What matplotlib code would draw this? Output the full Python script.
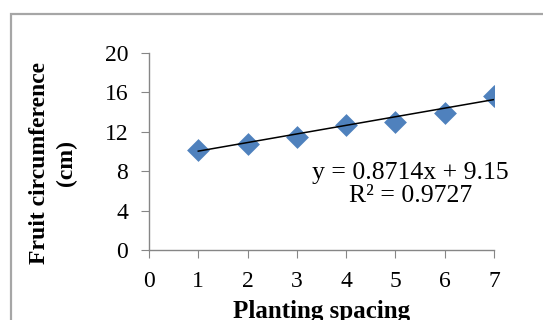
import matplotlib.pyplot as plt
import numpy as np
from matplotlib.patches import Rectangle

# data
spacing = [1, 2, 3, 4, 5, 6, 7]
circumference = [10.1, 10.7, 11.5, 12.7, 13.0, 13.9, 15.6]
slope, intercept = 0.8714, 9.15
r2 = 0.9727
xticks = [0, 1, 2, 3, 4, 5, 6, 7]
yticks = [0, 4, 8, 12, 16, 20]

plt.rcParams['font.family'] = ['Liberation Serif', 'DejaVu Serif']

fig = plt.figure(figsize=(5.43, 3.2), dpi=100)
ax = fig.add_axes([0.2744, 0.21875, 0.6354, 0.6166])

# outer chart border (cut off at right and bottom like the source)
fig.patches.append(Rectangle((11 / 543, -0.1), 1.2, (320 - 14) / 320 + 0.1,
                             transform=fig.transFigure, fill=False,
                             edgecolor='#a6a6a6', linewidth=1.6))

ax.scatter(spacing, circumference, marker='D', s=135, color='#4f81bd',
           zorder=3, linewidths=0)
xs = np.array([spacing[0], spacing[-1]])
ax.plot(xs, slope * xs + intercept, color='black', linewidth=1.1, zorder=4)

ax.set_xlim(0, 7)
ax.set_ylim(0, 20)
ax.set_xticks(xticks)
ax.set_yticks(yticks)
for s in ['top', 'right']:
    ax.spines[s].set_visible(False)
for s in ['left', 'bottom']:
    ax.spines[s].set_color('#868686')
    ax.spines[s].set_linewidth(1.0)
ax.tick_params(axis='y', direction='out', length=6, color='#868686',
               labelsize=17, pad=9)
ax.tick_params(axis='x', direction='out', length=6, color='#868686',
               labelsize=17, pad=9)

ax.set_xlabel('Planting spacing', fontsize=18, fontweight='bold', labelpad=6)
fig.text(53 / 543, 1 - 163 / 320, 'Fruit circumference\n(cm)', rotation=90,
         ha='center', va='center', multialignment='center',
         fontsize=17, fontweight='bold', linespacing=1.35)

ax.text(5.3, 6.6, f'y = {slope}x + {intercept}\nR² = {r2}', ha='center',
        va='center', fontsize=18.5, linespacing=1.05, clip_on=False)

fig.savefig('out.png', dpi=100)
